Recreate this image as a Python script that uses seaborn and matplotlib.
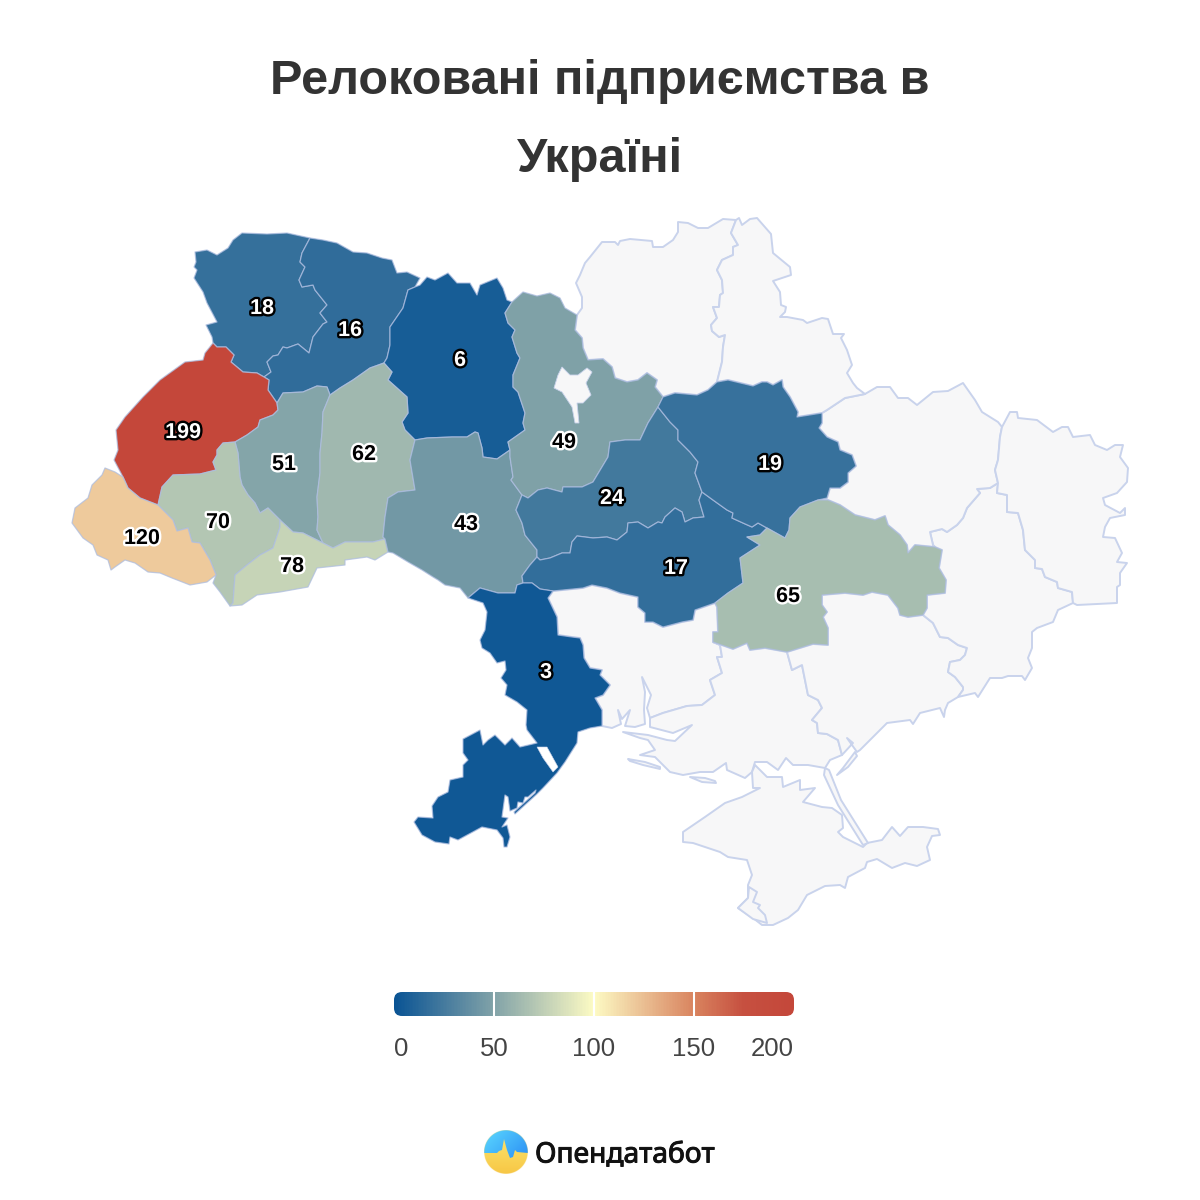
import numpy as np
import matplotlib
matplotlib.use("Agg")
import matplotlib.pyplot as plt
import matplotlib.patheffects as pe
from matplotlib.colors import Normalize
from matplotlib.patches import Polygon, FancyBboxPatch
import seaborn as sns

sns.set_theme(style="white")
plt.rcParams["font.family"] = ["Liberation Sans", "DejaVu Sans"]

# data
TITLE_LINES = ["Релоковані підприємства в", "Україні"]
REGIONS = ["volyn", "rivne", "zhytomyr", "lviv", "ternopil", "khmelnytskyi", "ivano_frankivsk",
           "zakarpattia", "chernivtsi", "vinnytsia", "kyiv", "cherkasy", "kirovohrad",
           "poltava", "dnipro", "odesa"]
VALUES = [18, 16, 6, 199, 51, 62, 70, 120, 78, 43, 49, 24, 17, 19, 65, 3]
LEGEND_TICKS = [0, 50, 100, 150, 200]
CMAP_STOPS = ["#0a5494", "#467b9e", "#82a3a8", "#c0cfb6", "#fdfbc4",
              "#eabe92", "#d9845f", "#c65040", "#c4473a"]
BRAND = "Опендатабот"

# map geometry: borders, in image pixels
B = {
    "volyn_north": [(310,238),(287,233),(267,234),(242,233),(233,240),(228,248),(217,255),(207,250),(195,252),
                    (196,262),(194,267),(197,270),(194,278),(203,292),(207,303),(217,322),(206,325),(212,337),(213,343)],
    "lviv_volyn": [(213,343),(217,347),(226,347),(234,355),(231,362),(243,372),(257,373),(264,377)],
    "volyn_rivne": [(264,377),(271,372),(267,362),(273,356),(278,355),(283,347),(287,348),(298,344),(309,353),
                    (313,337),(323,324),(327,322),(320,313),(327,305),(315,290),(313,285),(302,287),(299,280),
                    (305,267),(300,262),(302,253),(310,238)],
    "rivne_north": [(310,238),(323,240),(337,243),(353,252),(367,253),(382,258),(392,260),(397,273),(407,272),
                    (420,278),(415,287)],
    "rivne_zhyt": [(415,287),(408,290),(403,308),(390,327),(390,345),(387,358),(384,363)],
    "zhyt_north": [(415,287),(420,285),(427,277),(435,280),(448,273),(457,283),(470,283),(477,295),(480,285),
                   (497,278),(503,288),(507,300),(512,302)],
    "rivne_khm": [(384,363),(370,368),(353,380),(340,388),(330,395)],
    "tern_rivne": [(330,395),(327,387),(317,386),(303,392),(283,393),(277,403)],
    "lviv_rivne": [(264,377),(269,380),(268,390),(277,403)],
    "lviv_tern": [(277,403),(278,410),(273,415),(260,420),(258,427),(247,435),(235,442)],
    "lviv_if": [(235,442),(223,443),(217,450),(217,455),(213,462),(216,470),(200,474),(173,475),(162,487),(158,505)],
    "lviv_zak": [(158,505),(140,498),(128,488),(123,477)],
    "lviv_west": [(123,477),(114,460),(118,450),(116,430),(125,417),(143,397),(160,380),(185,362),(203,360),
                  (205,353),(213,343)],
    "zak_outer": [(123,477),(115,472),(105,468),(102,475),(92,485),(88,498),(75,508),(72,523),(83,538),(93,545),
                  (97,555),(108,560),(111,570),(115,567),(125,560),(135,563),(148,572),(160,573),(172,578),
                  (190,585),(207,582),(216,575)],
    "zak_if": [(216,575),(210,560),(200,543),(192,542),(188,528),(177,531),(173,520),(158,505)],
    "if_south": [(216,575),(213,583),(220,592),(230,606)],
    "if_tern": [(235,442),(238,453),(240,477),(242,485),(248,495),(255,503),(260,513),(268,508),(280,520)],
    "if_chv": [(280,520),(280,527),(273,548),(260,555),(247,565),(235,575),(233,603),(230,606)],
    "chv_tern": [(280,520),(293,532),(303,533),(323,543)],
    "tern_khm": [(330,395),(323,412),(322,433),(320,453),(320,473),(317,497),(318,517),(317,530),(323,543)],
    "chv_khm": [(323,543),(333,548),(345,542),(373,542),(385,539)],
    "chv_south": [(230,606),(242,605),(257,595),(280,592),(308,587),(317,568),(345,565),(345,560),(367,557),
                  (375,560),(388,552)],
    "khm_zhyt": [(384,363),(392,372),(388,380),(407,397),(408,413),(402,422),(405,430),(415,440)],
    "khm_vinn": [(415,440),(410,460),(415,490),(398,492),(388,498),(385,517),(383,537),(385,539)],
    "vinn_chv": [(385,539),(388,552)],
    "zhyt_vinn": [(415,440),(427,438),(452,437),(467,437),(475,432),(478,433),(482,448),(483,457),(497,459),(510,450)],
    "zhyt_kyiv": [(512,302),(505,313),(508,323),(515,330),(512,337),(517,353),(520,358),(513,375),(513,387),
                  (518,392),(525,413),(523,423),(525,430),(508,442),(510,450)],
    "vinn_south": [(388,552),(393,553),(408,562),(422,570),(433,577),(438,580),(445,585),(460,588),(468,598)],
    "vinn_kyiv": [(510,450),(510,457),(513,477),(511,480),(522,495)],
    "vinn_cherk": [(522,495),(516,510),(522,523),(525,535),(537,550),(537,557)],
    "vinn_kir": [(537,557),(530,565),(522,576),(523,583)],
    "vinn_odesa": [(468,598),(480,588),(498,593),(515,593),(517,585),(523,583)],
    "kir_odesa": [(523,583),(532,583),(540,589),(553,591)],
    "kir_myk": [(553,591),(583,588),(592,585),(607,588),(620,593),(638,597),(638,607),(645,613),(645,622),
                (653,622),(663,627),(682,622),(693,620),(695,610),(715,603)],
    "kir_dnipro": [(715,603),(728,593),(743,583),(740,558),(760,545),(747,537),(760,535),(767,528)],
    "kir_polt": [(702,492),(713,500),(727,510),(733,513),(732,518),(743,523),(752,527),(758,523),(767,528)],
    "cherk_kir": [(702,492),(699,500),(704,517),(693,518),(685,522),(682,512),(675,508),(665,517),(662,523),
                  (658,522),(648,528),(638,522),(628,523),(627,532),(617,540),(607,537),(593,538),(577,536),
                  (572,542),(570,553),(562,553),(550,558),(540,560),(537,557)],
    "kyiv_north": [(512,302),(523,292),(537,296),(550,293),(560,298),(565,308),(577,315)],
    "kyiv_chg": [(577,315),(575,330),(582,338),(583,348),(588,360),(603,359),(612,367),(615,378),(627,382),
                 (638,380),(647,373),(657,380),(655,387),(663,397)],
    "kyiv_polt": [(663,397),(658,407)],
    "cherk_kyiv": [(658,407),(648,423),(640,440),(625,440),(610,442),(608,457),(593,482),(582,487),(563,487),
                   (562,492),(547,488),(538,490),(528,498),(522,495)],
    "cherk_polt": [(658,407),(670,422),(678,430),(678,440),(690,452),(698,462),(695,473),(702,492)],
    "polt_chg": [(663,397),(675,393),(697,395),(708,390),(717,382)],
    "polt_sumy": [(717,382),(728,380),(753,386),(762,382),(767,382),(773,385),(782,380),(783,387),(790,397),
                  (798,412),(797,417),(822,413)],
    "polt_khar": [(822,413),(822,423),(819,428),(827,437),(838,442),(840,450),(852,455),(856,466),(848,473),
                  (848,482),(840,488),(830,488),(827,498),(818,500)],
    "polt_dnipro": [(818,500),(800,507),(790,518),(789,530),(785,538),(767,528)],
    "dnipro_khar": [(818,500),(828,500),(840,505),(855,515),(875,520),(885,516),(888,525),(900,535),(907,545),
                    (908,553),(915,545),(935,547)],
    "dnipro_don": [(935,547),(942,550),(939,568),(946,580),(945,593),(927,595),(927,608),(923,615)],
    "dnipro_zap": [(923,615),(908,617),(900,615),(898,608),(888,595),(872,592),(863,595),(845,593),(822,595),
                   (822,605),(827,612),(823,617),(828,628),(828,645),(813,644),(787,652)],
    "dnipro_kher": [(787,652),(765,648),(750,650),(747,643),(733,649),(713,642)],
    "dnipro_myk": [(713,642),(713,632),(718,632),(717,607),(715,603)],
    "odesa_myk": [(553,591),(548,598),(557,617),(558,635),(572,637),(580,638),(583,645),(584,658),(590,668),
                  (602,670),(600,675),(610,685),(603,695),(595,698),(602,710),(602,726)],
    "odesa_coast": [(602,726),(590,728),(578,732),(577,743),(565,762),(557,773),(543,788),(537,794),(515,814),
                    (514,812),(535,793),(536,790),(528,797),(525,797),(523,803),(518,802),(517,808),(510,811),
                    (508,797),(505,795),
                    (502,817),(508,818),(502,827),(507,825),(510,837),(507,847),(504,847),(503,838),(497,830),
                    (482,827),(458,840),(450,837),(449,844),(435,842),(422,835),(414,822),(418,817),(433,818),
                    (432,806),(438,797),(448,792),(450,780),(463,777),(463,765),(468,760),(463,753),(463,739),
                    (480,730),(483,745),(488,740),(495,735),(505,745),(512,738),(520,747),(537,743),(527,730),
                    (526,725),(527,710),(517,702),(505,695),(507,685),(501,678),(506,670),(505,661),(497,663),
                    (490,653),(482,648),(480,640),(485,630),(487,612),(483,603),(468,598)],
    "myk_kher": [(713,642),(720,645),(722,657),(717,657),(722,673),(710,680),(715,695),(702,705),(687,706),
                 (663,713),(650,718)],
    "myk_coast": [(650,718),(647,708),(651,695),(642,677),(645,692),(644,710),(645,724),(635,727),(625,726),
                  (630,710),(622,719),(618,710),(621,724),(612,728),(602,726)],
    "kher_coast": [(650,718),(650,727),(673,733),(692,725),(675,741),(667,740),(648,735),(623,732),(640,738),
                   (648,740),(655,750),(640,755),(655,757),(670,772),(683,775),(700,772),(713,772),(726,763),
                   (727,770),(745,778),(752,772),(755,762),(767,762),(778,770),(786,758),(793,765),(808,765),
                   (825,768),(830,760),(842,755)],
    "kher_zap": [(842,755),(838,740),(827,734),(818,733),(817,723),(812,720),(822,708),(818,700),(808,695),
                 (802,665),(792,670),(787,652)],
    "zap_don": [(923,615),(933,623),(940,637),(948,638),(958,645),(967,648),(965,655),(960,660),(950,662),
                (948,672),(955,677),(963,687),(963,690),(958,697)],
    "zap_coast": [(958,697),(948,703),(945,710),(944,717),(940,708),(920,713),(913,724),(910,720),(887,723),
                  (873,737),(860,750),(857,752),(847,738),(853,743),(842,755)],
    "don_coast": [(958,697),(975,693),(978,697),(990,678),(1002,678),(1008,676),(1022,676),(1025,680),(1032,668),
                  (1028,658),(1032,648),(1032,632),(1037,628),(1053,622),(1058,610),(1073,603)],
    "don_lug": [(998,483),(997,493),(1007,495),(1007,512),(1018,513),(1023,530),(1025,550),(1035,560),(1035,568),
                (1042,569),(1045,577),(1057,582),(1058,588),(1072,592),(1073,603)],
    "khar_don": [(935,547),(933,545),(930,532),(942,529),(947,532),(957,525),(963,518),(967,508),(980,493),
                 (977,489),(990,488),(998,483)],
    "khar_north": [(865,394),(877,387),(890,387),(898,398),(908,398),(917,405),(933,392),(948,391),(963,383),
                   (975,400),(982,412),(998,422),(1002,427)],
    "khar_lug": [(1002,427),(1000,437),(998,460),(995,470),(998,483)],
    "sumy_khar": [(822,413),(827,410),(845,398),(850,397),(865,394)],
    "lug_outer": [(1002,427),(1010,412),(1017,412),(1018,418),(1037,420),(1053,432),(1062,427),(1068,427),(1073,437),
                  (1090,435),(1095,445),(1107,450),(1115,445),(1123,445),(1120,457),(1128,468),(1127,482),
                  (1117,493),(1103,498),(1105,505),(1120,513),(1125,508),(1125,515),(1110,518),(1105,527),
                  (1103,537),(1115,538),(1122,553),(1117,562),(1127,563),(1120,573),(1120,585),(1117,587),
                  (1117,603),(1077,605),(1073,603)],
    "chg_north": [(577,315),(582,308),(582,297),(576,283),(580,275),(585,263),(590,257),(602,242),(615,242),
                  (618,245),(620,241),(630,239),(652,241),(653,247),(663,247),(673,240),(678,232),(678,222),
                  (688,223),(698,228),(708,228),(723,219),(736,220)],
    "chg_sumy": [(736,220),(731,233),(738,245),(733,247),(733,255),(722,260),(717,270),(722,280),(723,293),
                 (720,295),(719,307),(713,307),(717,318),(711,325),(712,331),(719,337),(725,335),(723,347),
                 (722,362),(717,382)],
    "sumy_north": [(736,220),(739,218),(742,225),(750,219),(757,218),(771,234),(773,253),(790,267),(791,275),
                   (773,281),(780,292),(781,305),(786,307),(785,312),(780,317),(787,317),(803,320),(807,323),
                   (822,318),(828,319),(833,334),(844,334),(841,338),(847,350),(852,365),(847,373),(853,383),
                   (857,388),(865,394)],
}

SHAPES = {
    "volyn": ["volyn_north", "lviv_volyn", "volyn_rivne"],
    "rivne": ["rivne_north", "rivne_zhyt", "rivne_khm", "tern_rivne", "-lviv_rivne", "volyn_rivne"],
    "zhytomyr": ["zhyt_north", "zhyt_kyiv", "-zhyt_vinn", "-khm_zhyt", "-rivne_zhyt"],
    "lviv": ["lviv_volyn", "lviv_rivne", "lviv_tern", "lviv_if", "lviv_zak", "lviv_west"],
    "ternopil": ["tern_rivne", "lviv_tern", "if_tern", "chv_tern", "-tern_khm"],
    "khmelnytskyi": ["-rivne_khm", "khm_zhyt", "khm_vinn", "-chv_khm", "-tern_khm"],
    "ivano_frankivsk": ["-lviv_if", "if_tern", "if_chv", "-if_south", "zak_if"],
    "zakarpattia": ["-lviv_zak", "-zak_if", "-zak_outer"],
    "chernivtsi": ["chv_tern", "chv_khm", "vinn_chv", "-chv_south", "-if_chv"],
    "vinnytsia": ["khm_vinn", "vinn_chv", "vinn_south", "vinn_odesa", "-vinn_kir", "-vinn_cherk", "-vinn_kyiv", "-zhyt_vinn"],
    "kyiv": ["kyiv_north", "kyiv_chg", "kyiv_polt", "cherk_kyiv", "-vinn_kyiv", "-zhyt_kyiv"],
    "cherkasy": ["-cherk_kyiv", "cherk_polt", "cherk_kir", "-vinn_cherk"],
    "kirovohrad": ["-cherk_kir", "kir_polt", "-kir_dnipro", "-kir_myk", "-kir_odesa", "-vinn_kir"],
    "poltava": ["polt_chg", "polt_sumy", "polt_khar", "polt_dnipro", "-kir_polt", "-cherk_polt", "-kyiv_polt"],
    "dnipro": ["-polt_dnipro", "dnipro_khar", "dnipro_don", "dnipro_zap", "dnipro_kher", "dnipro_myk", "kir_dnipro"],
    "odesa": ["vinn_odesa", "kir_odesa", "odesa_myk", "odesa_coast"],
    "mykolaiv": ["kir_myk", "-dnipro_myk", "myk_kher", "myk_coast", "-odesa_myk"],
    "kherson": ["-myk_kher", "-dnipro_kher", "-kher_zap", "-kher_coast"],
    "zaporizhzhia": ["-dnipro_zap", "zap_don", "zap_coast", "kher_zap"],
    "donetsk": ["zap_don", "don_coast", "-don_lug", "-khar_don", "dnipro_don"],
    "kharkiv": ["khar_north", "khar_lug", "-khar_don", "-dnipro_khar", "-polt_khar", "sumy_khar"],
    "luhansk": ["lug_outer", "-don_lug", "-khar_lug"],
    "chernihiv": ["chg_north", "chg_sumy", "-polt_chg", "-kyiv_chg"],
    "sumy": ["sumy_north", "-sumy_khar", "-polt_sumy", "-chg_sumy"],
}

CRIMEA = [(760,788),(742,797),(725,803),(705,817),(683,832),(683,842),(693,843),(720,852),(728,857),(747,860),
          (752,875),(748,885),(748,898),(738,908),(753,918),(762,925),(773,925),(788,918),(798,910),(807,895),
          (825,886),(840,885),(845,888),(848,877),(865,868),(867,862),(877,859),(892,868),(905,863),(917,866),
          (930,860),(927,847),(932,836),(940,835),(938,829),(923,827),(908,827),(900,836),(892,827),(882,840),
          (867,843),(863,847),(843,837),(838,832),(843,828),(842,815),(832,808),(822,807),(803,802),(815,788),
          (800,790),(800,780),(783,787),(782,777),(767,777),(755,765),(752,772),(753,788)]
SEVASTOPOL = [(749,887),(757,892),(753,902),(760,905),(758,908),(765,915),(767,923),(753,919),(738,908),(748,898)]
ARABAT = [(825,768),(829,770),(841,800),(868,843),(863,845),(838,805),(824,775)]
KYIV_CITY = [(562,367),(570,375),(578,375),(587,368),(592,372),(586,383),(591,395),(583,403),(577,403),(579,423),
             (575,423),(572,407),(562,392),(554,388),(558,375)]
ISLANDS = [[(628,759),(645,762),(660,767),(660,769),(643,765),(630,761)],
           [(690,777),(705,778),(715,781),(716,783),(702,782)],
           [(837,775),(843,768),(855,752),(857,756),(848,767)]]
LAGOON = [(537,747),(547,747),(558,767),(553,772),(543,758)]

# label anchors in image pixels
LABEL_XY = {"volyn": (262,306), "rivne": (350,328), "zhytomyr": (460,358), "lviv": (183,430), "ternopil": (284,462),
            "khmelnytskyi": (364,452), "ivano_frankivsk": (218,520), "zakarpattia": (142,536), "chernivtsi": (292,564),
            "vinnytsia": (466,522), "kyiv": (564,440), "cherkasy": (612,496), "kirovohrad": (676,566),
            "poltava": (770,462), "dnipro": (788,594), "odesa": (546,670)}

NO_DATA = "#f7f7f8"
EDGE = "#c9d3ec"
EDGE_COLOURED = (0.68, 0.74, 0.88, 0.75)


def outline(*names):
    pts = []
    for name in names:
        chain = B[name.lstrip("-")]
        pts.extend(chain[::-1] if name.startswith("-") else chain)
    return pts


cmap = sns.blend_palette(CMAP_STOPS, n_colors=256, as_cmap=True)
norm = Normalize(0, 200)
value_of = dict(zip(REGIONS, VALUES))

fig = plt.figure(figsize=(12, 12), dpi=100, facecolor="white")
ax = fig.add_axes([0, 0, 1, 1])
ax.set_xlim(0, 1200)
ax.set_ylim(1200, 0)
ax.axis("off")

# grey regions first so the coloured ones sit on top
for name, chains in SHAPES.items():
    if name not in value_of:
        ax.add_patch(Polygon(outline(*chains), fc=NO_DATA, ec=EDGE, lw=1.4, joinstyle="round"))
for pts in [CRIMEA, SEVASTOPOL, ARABAT] + ISLANDS:
    ax.add_patch(Polygon(pts, fc=NO_DATA, ec=EDGE, lw=1.4, joinstyle="round"))

for name, chains in SHAPES.items():
    if name in value_of:
        ax.add_patch(Polygon(outline(*chains), fc=cmap(norm(value_of[name])), ec=EDGE_COLOURED, lw=0.9,
                             joinstyle="round"))
ax.add_patch(Polygon(KYIV_CITY, fc=NO_DATA, ec=EDGE, lw=0.6))
ax.add_patch(Polygon(LAGOON, fc="white", ec=EDGE, lw=0.4))

for name, val in zip(REGIONS, VALUES):
    r, g, b, _ = cmap(norm(val))
    dark_bg = 0.299 * r + 0.587 * g + 0.114 * b < 0.5
    x, y = LABEL_XY[name]
    ax.text(x, y, str(val), ha="center", va="center_baseline", fontsize=15.5, fontweight="bold",
            color="white" if dark_bg else "black",
            path_effects=[pe.withStroke(linewidth=3.4, foreground="black" if dark_bg else "white")])

for line, y in zip(TITLE_LINES, [81, 159]):
    ax.text(600, y, line, ha="center", va="center", fontsize=35, fontweight="bold", color="#333333")

# legend bar
cax = fig.add_axes([394 / 1200, 1 - 1016 / 1200, 400 / 1200, 24 / 1200])
grad = np.linspace(0, 200, 400)[None, :]
sns.heatmap(grad, ax=cax, cmap=cmap, vmin=0, vmax=200, cbar=False, xticklabels=False, yticklabels=False)
round_box = FancyBboxPatch((0, 0), 400, 1, boxstyle="round,pad=0,rounding_size=8", mutation_aspect=1 / 24,
                           transform=cax.transData, fc="none", ec="none")
cax.add_patch(round_box)
cax.collections[0].set_clip_path(round_box)
for tick in LEGEND_TICKS[1:-1]:
    cax.axvline(tick * 2, color="white", lw=1.5)
cax.axis("off")

for tick in LEGEND_TICKS:
    x = 394 + tick * 2
    ha = {0: "left", 200: "right"}.get(tick, "center")
    ax.text(x, 1047, str(tick), ha=ha, va="center_baseline", fontsize=18.5, color="#444444")

# brand mark: two gradients masked to a circle, yellow under a blue top with a pulse cut out
cx, cy, rad = 506, 1152, 22
yy, xx = np.mgrid[0:176, 0:176]
mask = np.clip((88 - np.hypot(xx - 87.5, yy - 87.5)) / 2, 0, 1)
t = (yy / 175)[..., None]
yellow = np.concatenate([np.array([0.99, 0.91, 0.45]) * (1 - t) + np.array([0.97, 0.78, 0.27]) * t, mask[..., None]], axis=2)
u = ((xx + yy) / 350)[..., None]
blue = np.concatenate([np.array([0.36, 0.85, 1.0]) * (1 - u) + np.array([0.13, 0.50, 0.95]) * u, mask[..., None]], axis=2)
extent = (cx - rad, cx + rad, cy + rad, cy - rad)
ax.imshow(yellow, extent=extent, zorder=3, aspect="auto")
top = ax.imshow(blue, extent=extent, zorder=4, aspect="auto")
pulse = [(484,1130),(528,1130),(528,1153),(517,1152),(515,1150),(513,1157),(510,1158),(507,1150),(504,1139),
         (502,1150),(499,1151),(497,1153),(484,1153)]
clip = Polygon(pulse, transform=ax.transData, fc="none", ec="none")
ax.add_patch(clip)
top.set_clip_path(clip)
ax.set_xlim(0, 1200)
ax.set_ylim(1200, 0)

ax.text(535, 1155, BRAND, ha="left", va="center", fontsize=20.3, color="#111111", family="Noto Sans",
        path_effects=[pe.withStroke(linewidth=0.7, foreground="#111111")])

fig.savefig("out.png", dpi=100)
plt.close(fig)
